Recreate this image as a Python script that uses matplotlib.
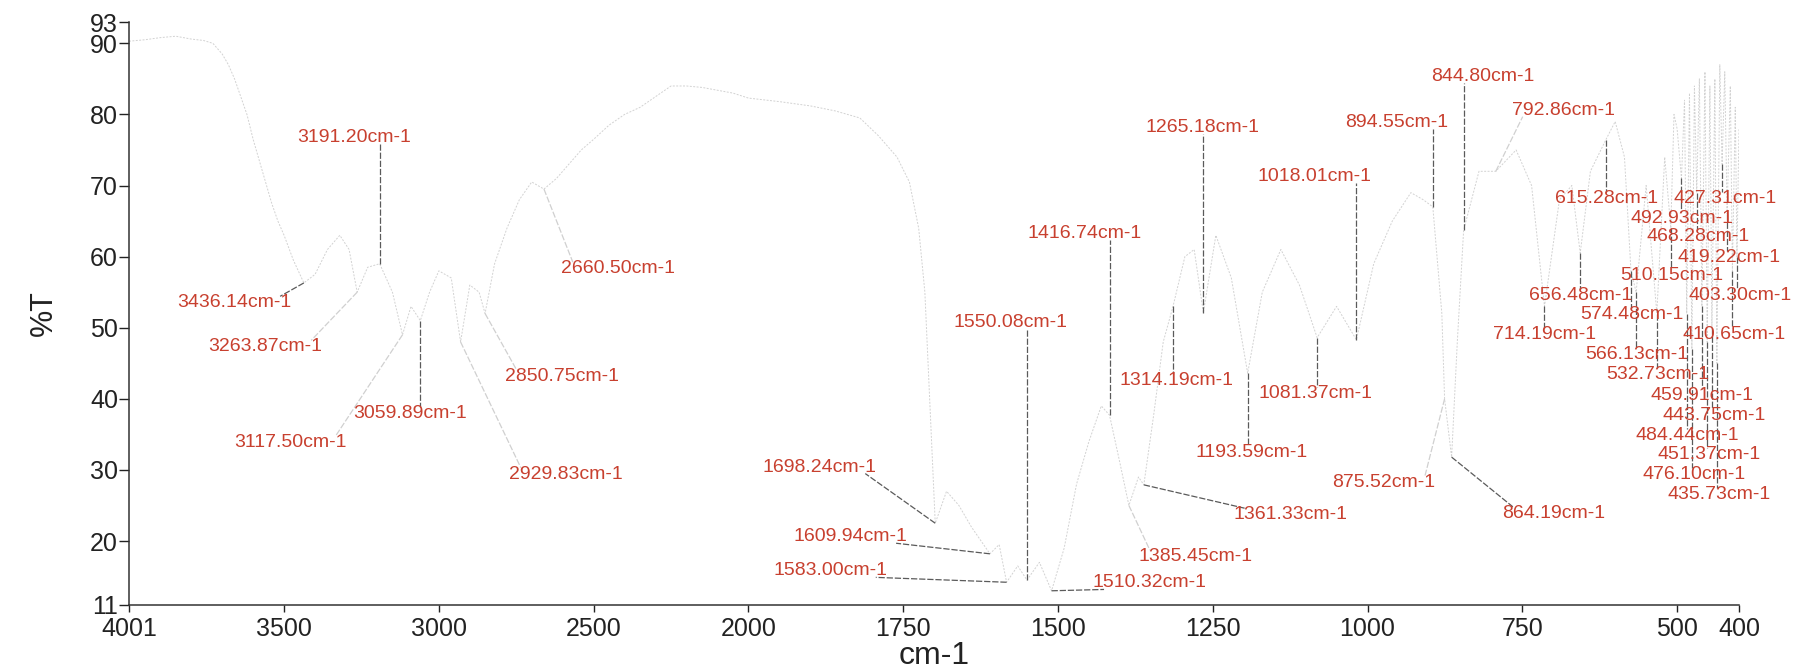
import numpy as np
import matplotlib
matplotlib.use("Agg")
import matplotlib.pyplot as plt

plt.rcParams["font.family"] = ["Liberation Sans", "DejaVu Sans"]

# spectrum (wavenumber cm-1, %T)
spec_wn = [4001, 3950, 3900, 3850, 3800, 3760, 3730, 3700, 3680, 3660, 3640, 3620,
           3600, 3580, 3560, 3540, 3520, 3500, 3470, 3436.14, 3400, 3360, 3320, 3290,
           3263.87, 3230, 3191.20, 3150, 3117.50, 3090, 3059.89, 3030, 3000, 2960,
           2929.83, 2900, 2870, 2850.75, 2820, 2780, 2740, 2700, 2660.50, 2620, 2580,
           2540, 2500, 2450, 2400, 2350, 2300, 2250, 2200, 2150, 2100, 2050, 2000,
           1950, 1900, 1860, 1820, 1790, 1760, 1740, 1725, 1715, 1698.24, 1680, 1660,
           1640, 1609.94, 1595, 1583.00, 1565, 1550.08, 1530, 1510.32, 1490, 1470,
           1450, 1430, 1416.74, 1400, 1385.45, 1370, 1361.33, 1345, 1330, 1314.19,
           1295, 1280, 1265.18, 1245, 1220, 1193.59, 1170, 1140, 1110, 1081.37, 1050,
           1018.01, 990, 960, 930, 910, 894.55, 880, 875.52, 864.19, 855, 844.80, 820,
           792.86, 760, 735, 714.19, 690, 670, 656.48, 640, 615.28, 600, 585, 574.48,
           566.13, 550, 532.73, 520, 510.15, 505, 500, 492.93, 488, 484.44, 480,
           476.10, 472, 468.28, 464, 459.91, 455, 451.37, 447, 443.75, 439, 435.73,
           431, 427.31, 423, 419.22, 414, 410.65, 406, 403.30, 400]
spec_t = [90.3, 90.5, 90.8, 91.0, 90.6, 90.4, 90.0, 88.5, 87.0, 85.0, 82.5, 80.0,
          76.5, 73.5, 70.5, 67.5, 65.0, 63.0, 59.5, 56.3, 57.5, 61.0, 63.0, 61.0,
          55.0, 58.5, 59.0, 55.0, 49.0, 53.0, 51.0, 55.0, 58.0, 57.0,
          48.0, 56.0, 55.0, 52.0, 59.0, 64.0, 68.0, 70.5, 69.5, 71.0, 73.0,
          75.0, 76.5, 78.5, 80.0, 81.0, 82.5, 84.0, 84.0, 83.8, 83.4, 83.0, 82.3,
          81.8, 81.2, 80.5, 79.5, 77.0, 74.0, 70.5, 64.0, 55.0, 22.5, 27.0, 25.0,
          22.0, 18.2, 19.5, 14.2, 16.5, 14.5, 17.0, 13.0, 19.0, 28.0,
          34.0, 39.0, 37.7, 31.0, 25.0, 29.0, 27.9, 38.0, 48.0, 53.0,
          60.0, 61.0, 52.1, 63.0, 57.0, 43.6, 55.0, 61.0, 56.0, 48.6, 53.0,
          48.3, 59.0, 65.0, 69.0, 68.0, 67.0, 52.0, 40.0, 31.8, 48.0, 63.7, 72.0,
          72.0, 75.0, 70.0, 53.0, 68.0, 70.0, 60.5, 72.0, 76.4, 79.0, 74.0, 58.0,
          55.0, 70.0, 52.0, 74.0, 64.0, 80.0, 78.0, 71.0, 82.0, 52.0, 83.0,
          47.0, 84.0, 69.0, 85.0, 53.0, 86.0, 48.0, 84.0, 50.0, 85.0, 45.0,
          87.0, 73.0, 86.0, 66.0, 84.0, 58.0, 81.0, 60.0, 78.0]

# labelled peaks
peak_wn = [3436.14, 3263.87, 3191.20, 3117.50, 3059.89, 2929.83, 2850.75, 2660.50,
           1698.24, 1609.94, 1583.00, 1550.08, 1510.32, 1385.45, 1416.74, 1314.19,
           1265.18, 1193.59, 1361.33, 1081.37, 1018.01, 894.55, 844.80, 792.86,
           615.28, 427.31, 492.93, 468.28, 419.22, 510.15, 656.48, 403.30, 574.48,
           714.19, 410.65, 566.13, 532.73, 459.91, 443.75, 484.44, 451.37, 476.10,
           435.73, 864.19, 875.52]

# where each label sits: (wavenumber of left edge, %T of centre)
label_pos = {
    3436.14: (3845, 53.5), 3263.87: (3744, 47.3), 3191.20: (3457, 76.8),
    3117.50: (3660, 33.9), 3059.89: (3276, 38.0), 2929.83: (2772, 29.4),
    2850.75: (2785, 43.1), 2660.50: (2604, 58.3), 1698.24: (1977, 30.4),
    1609.94: (1927, 20.6), 1583.00: (1960, 15.8), 1550.08: (1669, 50.8),
    1510.32: (1444, 14.1), 1385.45: (1370, 17.8), 1416.74: (1549, 63.3),
    1314.19: (1401, 42.6), 1265.18: (1359, 78.1), 1193.59: (1278, 32.5),
    1361.33: (1217, 23.7), 1081.37: (1176, 40.7), 1018.01: (1178, 71.3),
    894.55: (1037, 78.8), 844.80: (897, 85.4), 792.86: (766, 80.6),
    615.28: (698, 68.2), 427.31: (506, 68.2), 492.93: (575, 65.4),
    468.28: (550, 62.8), 419.22: (500, 59.9), 510.15: (592, 57.3),
    656.48: (740, 54.6), 403.30: (482, 54.6), 574.48: (656, 51.9),
    714.19: (798, 49.0), 410.65: (491, 49.0), 566.13: (648, 46.2),
    532.73: (614, 43.4), 459.91: (543, 40.5), 443.75: (524, 37.7),
    484.44: (567, 34.9), 451.37: (532, 32.1), 476.10: (556, 29.4),
    435.73: (516, 26.6), 864.19: (782, 23.9), 875.52: (1057, 28.3),
}
# leaders that barely show in the scan
faint = {3263.87, 3117.50, 2929.83, 2850.75, 2660.50, 1385.45, 875.52, 792.86}

x_ticks = [4001, 3500, 3000, 2500, 2000, 1750, 1500, 1250, 1000, 750, 500, 400]
y_ticks = [93, 90, 80, 70, 60, 50, 40, 30, 20, 11]


def fwd(x):
    x = np.asarray(x, dtype=float)
    return np.where(x > 2000, 2000 + (x - 2000) / 2, x)


def inv(u):
    u = np.asarray(u, dtype=float)
    return np.where(u > 2000, 2000 + (u - 2000) * 2, u)


fig = plt.figure(figsize=(17.93, 6.72), dpi=100)
ax = fig.add_axes([129 / 1793, 67 / 672, 1610 / 1793, 583 / 672])
ax.set_xscale("function", functions=(fwd, inv))
ax.set_xlim(4001, 400)
ax.set_ylim(11, 93)

# the printed trace is almost washed out in the scan
ax.plot(spec_wn, spec_t, color="#d2d2d2", lw=0.7, linestyle=(0, (2, 1.5)))

red = "#c8402f"
t_of = dict(zip(spec_wn, spec_t))
texts = []
for wn in peak_wn:
    lx, ly = label_pos[wn]
    texts.append(ax.text(lx, ly, f"{wn:.2f}cm-1", color=red, fontsize=14,
                         ha="left", va="center"))

fig.canvas.draw()
renderer = fig.canvas.get_renderer()
to_data = ax.transData.inverted()
for t, wn in zip(texts, peak_wn):
    pt = t_of[wn]
    bb = t.get_window_extent(renderer)
    px, py = ax.transData.transform((wn, pt))
    axp = np.clip(px, bb.x0 + 0.1 * bb.width, bb.x1 - 0.1 * bb.width)
    ayp = bb.y1 - 2 if py > (bb.y0 + bb.y1) / 2 else bb.y0 + 2
    a_wn, a_t = to_data.transform((axp, ayp))
    col = "#d0d0d0" if wn in faint else "#5a5a5a"
    ax.plot([wn, a_wn], [pt, a_t], color=col, lw=0.9, linestyle=(0, (5, 1.5)))

ax.set_xticks(x_ticks)
ax.set_xticklabels([str(v) for v in x_ticks])
ax.set_yticks(y_ticks)
ax.minorticks_off()
for s in ("top", "right"):
    ax.spines[s].set_visible(False)
for s in ("left", "bottom"):
    ax.spines[s].set_color("#333333")
    ax.spines[s].set_linewidth(1.1)
ax.tick_params(axis="y", direction="out", length=7, width=1, pad=1,
               labelsize=18, colors="#222222")
ax.tick_params(axis="x", direction="out", length=5, width=1, pad=4,
               labelsize=18, colors="#222222")
ax.set_xlabel("cm-1", fontsize=23, labelpad=0, color="#222222")
ax.set_ylabel("%T", fontsize=22, labelpad=22, color="#222222")

fig.savefig("out.png", dpi=100)
